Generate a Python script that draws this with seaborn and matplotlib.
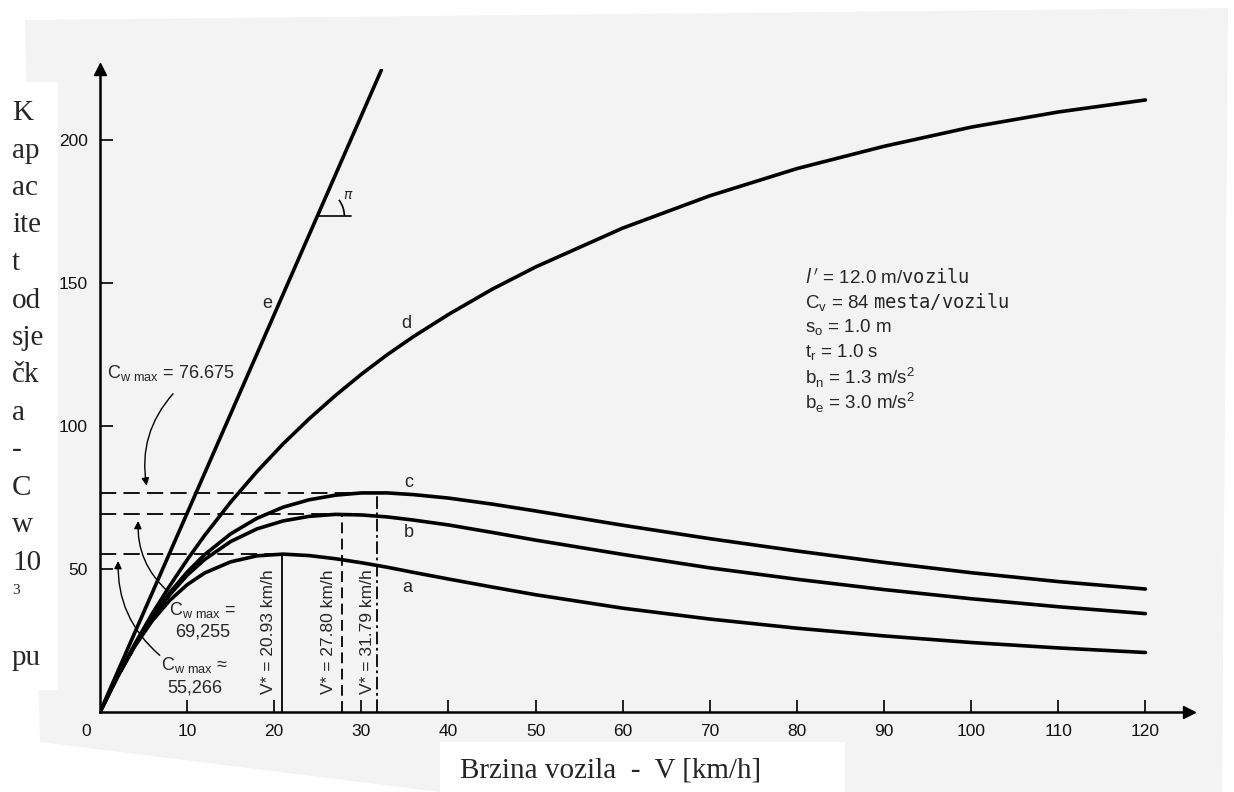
import matplotlib
matplotlib.use("Agg")
import matplotlib.pyplot as plt
from matplotlib.patches import Arc, Polygon, Rectangle
import numpy as np
import pandas as pd
import seaborn as sns

# speed V [km/h] and read capacities Cw [10^3 putnika/h] for curves a-d
V = [0, 2, 4, 6, 8, 10, 12, 15, 18, 21, 24, 27, 30, 33, 36, 40, 45, 50,
     60, 70, 80, 90, 100, 110, 120]
cap_a = [0, 12.3, 23.0, 31.9, 39.0, 44.5, 48.6, 52.5, 54.6, 55.2, 54.7, 53.6,
         52.2, 50.6, 48.8, 46.5, 43.7, 41.0, 36.3, 32.5, 29.3, 26.6, 24.3, 22.4, 20.8]
cap_b = [0, 12.3, 23.3, 32.9, 41.0, 47.8, 53.3, 59.6, 64.0, 66.8, 68.4, 69.1,
         68.9, 68.2, 67.1, 65.4, 62.8, 60.1, 55.1, 50.4, 46.4, 42.8, 39.6, 36.8, 34.4]
cap_c = [0, 12.3, 23.4, 33.2, 41.7, 48.9, 55.0, 62.3, 67.7, 71.6, 74.2, 75.8,
         76.6, 76.6, 76.0, 74.8, 72.7, 70.3, 65.3, 60.6, 56.3, 52.3, 48.7, 45.6, 43.0]
cap_d = [0, 12.4, 23.8, 34.4, 44.1, 53.2, 61.7, 73.4, 84.0, 93.7, 102.5, 110.6,
         118.1, 125.0, 131.3, 139.0, 147.8, 155.6, 169.2, 180.5, 190.0, 197.8,
         204.5, 209.8, 214.0]
V_e = [0, 32.3]
cap_e = [0, 224.5]

# maxima of a, b, c
peak_V = [20.93, 27.80, 31.79]
peak_C = [55.266, 69.255, 76.675]
peak_lbl_V = ["20.93", "27.80", "31.79"]
peak_lbl_C = ["55,266", "69,255", "76.675"]

x_ticks = [10, 20, 30, 40, 50, 60, 70, 80, 90, 100, 110, 120]
y_ticks = [50, 100, 150, 200]

params = [r"$\mathit{l}\,'$ = 12.0 m/$\mathtt{vozilu}$",
          r"C$_\mathregular{v}$ = 84 $\mathtt{mesta/vozilu}$",
          r"s$_\mathregular{o}$ = 1.0 m",
          r"t$_\mathregular{r}$ = 1.0 s",
          r"b$_\mathregular{n}$ = 1.3 m/s$^\mathregular{2}$",
          r"b$_\mathregular{e}$ = 3.0 m/s$^\mathregular{2}$"]

ylabel_parts = ["K", "ap", "ac", "ite", "t", "od", "sje", "čk", "a", "-",
                "C", "w", "10", "3", "pu"]
xlabel = "Brzina vozila  -  V [km/h]"

sns.set_style("ticks")
plt.rcParams["font.family"] = ["Liberation Sans", "DejaVu Sans"]
plt.rcParams["mathtext.fontset"] = "dejavusans"

W, H = 1234, 792
fig = plt.figure(figsize=(W / 100, H / 100), dpi=100, facecolor="white")

# greyish scanned page
page = Polygon([(25 / W, 1 - 20 / H), (1228 / W, 1 - 8 / H), (1222 / W, 0),
                (440 / W, 0), (40 / W, 1 - 742 / H)],
               closed=True, transform=fig.transFigure, facecolor="#f3f3f3",
               edgecolor="none", zorder=-2)
fig.patches.append(page)
fig.patches.append(Rectangle((0, 1 - 690 / H), 58 / W, 608 / H, transform=fig.transFigure,
                             facecolor="white", edgecolor="none", zorder=-1))
fig.patches.append(Rectangle((440 / W, 0), 405 / W, 50 / H, transform=fig.transFigure,
                             facecolor="white", edgecolor="none", zorder=-1))

ax = fig.add_axes([100 / W, 80 / H, 1089 / W, 643.5 / H])
ax.set_zorder(2)
ax.set_facecolor("none")

df = pd.concat([
    pd.DataFrame({"V": V, "C": cap_a, "kriva": "a"}),
    pd.DataFrame({"V": V, "C": cap_b, "kriva": "b"}),
    pd.DataFrame({"V": V, "C": cap_c, "kriva": "c"}),
    pd.DataFrame({"V": V, "C": cap_d, "kriva": "d"}),
    pd.DataFrame({"V": V_e, "C": cap_e, "kriva": "e"}),
])
sns.lineplot(data=df, x="V", y="C", units="kriva", estimator=None, sort=False,
             color="black", linewidth=2.6, legend=False, ax=ax, zorder=3)

ax.set_xlim(0, 125)
ax.set_ylim(0, 225)
ax.set_xlabel("")
ax.set_ylabel("")
for s in ["top", "right"]:
    ax.spines[s].set_visible(False)
for s in ["left", "bottom"]:
    ax.spines[s].set_linewidth(1.8)
    ax.spines[s].set_color("black")
ax.plot(1, 0, ">", color="black", ms=8, transform=ax.transAxes, clip_on=False)
ax.plot(0, 1, "^", color="black", ms=8, transform=ax.transAxes, clip_on=False)
ax.set_xticks(x_ticks)
ax.set_yticks(y_ticks)
ax.tick_params(direction="in", length=9, width=1.3, labelsize=12.5, pad=9,
               colors="#111111")
ax.annotate("0", (0, 0), xytext=(-10, -9), textcoords="offset points",
            ha="center", va="top", fontsize=12.5, color="#111111")

# dashed guides to the maxima
v_styles = ["-", (0, (6, 3)), (0, (7, 2, 1.5, 2))]
for pv, pc, vs in zip(peak_V, peak_C, v_styles):
    ax.plot([0, pv], [pc, pc], color="black", lw=1.3, ls=(0, (9, 4)), zorder=2)
    ax.plot([pv, pv], [0, pc], color="black", lw=1.3, ls=vs, zorder=2)

for pv, lbl, dx in zip(peak_V, peak_lbl_V, [-1.6, -1.6, -1.1]):
    ax.text(pv + dx, 28, "V* = " + lbl + " km/h", rotation=90, ha="center",
            va="center", fontsize=12.5)

# C_w max labels with curved arrows
arrow_kw = dict(arrowstyle="-|>", color="black", lw=1.0, mutation_scale=11)
ax.text(0.8, 118.5, r"C$_{\mathregular{w\ max}}$ = " + peak_lbl_C[2], fontsize=13,
        ha="left", va="center")
ax.annotate("", xy=(5.4, peak_C[2] + 1.5), xytext=(8.6, 112),
            arrowprops=dict(connectionstyle="arc3,rad=0.25", **arrow_kw))
ax.text(11.8, 35.7, r"C$_{\mathregular{w\ max}}$ =", fontsize=13, ha="center", va="center")
ax.text(11.8, 28, peak_lbl_C[1], fontsize=13, ha="center", va="center")
ax.annotate("", xy=(4.4, peak_C[1] - 1.5), xytext=(8.0, 41.6),
            arrowprops=dict(connectionstyle="arc3,rad=-0.25", **arrow_kw))
ax.text(10.9, 16.4, r"C$_{\mathregular{w\ max}}$ ≈", fontsize=13, ha="center", va="center")
ax.text(10.9, 8.4, peak_lbl_C[0], fontsize=13, ha="center", va="center")
ax.annotate("", xy=(2.1, peak_C[0] - 1.5), xytext=(7.1, 19.2),
            arrowprops=dict(connectionstyle="arc3,rad=-0.25", **arrow_kw))

# angle marker on line e
slope_e = cap_e[1] / V_e[1]
c0 = 173.4
v0 = c0 / slope_e
ax.plot([v0, v0 + 3.9], [c0, c0], color="black", lw=1.2)
ang = np.degrees(np.arctan(slope_e * 2.86 / 8.71))
ax.add_patch(Arc((v0, c0), 54 / 8.71, 54 / 2.86, theta1=0, theta2=ang,
                 color="black", lw=1.2))
ax.text(v0 + 3.6, c0 + 7.5, r"$\pi$", fontsize=10, ha="center", va="center")

# curve letters
for lbl, xv, yv in [("e", 19.2, 143), ("d", 35.2, 136), ("c", 35.4, 80.4),
                    ("b", 35.4, 62.6), ("a", 35.3, 43.4)]:
    ax.text(xv, yv, lbl, fontsize=13, ha="center", va="center")

# parameter block
for i, line in enumerate(params):
    ax.text(80.9, 151.7 - i * 8.7, line, fontsize=13.5, ha="left", va="center")

# axis titles in white boxes
y_pos = 113
for part in ylabel_parts:
    small = part == "3"
    fig.text(12 / W, 1 - y_pos / H, part, fontsize=11 if small else 21,
             family="Liberation Serif", ha="left", va="center")
    if part == "10":
        y_pos += 27
    elif part == "3":
        y_pos += 68
    else:
        y_pos += 37.5
fig.text(460 / W, 1 - 770 / H, xlabel, fontsize=21, family="Liberation Serif",
         ha="left", va="center")

fig.savefig("out.png", dpi=100, facecolor=fig.get_facecolor())
